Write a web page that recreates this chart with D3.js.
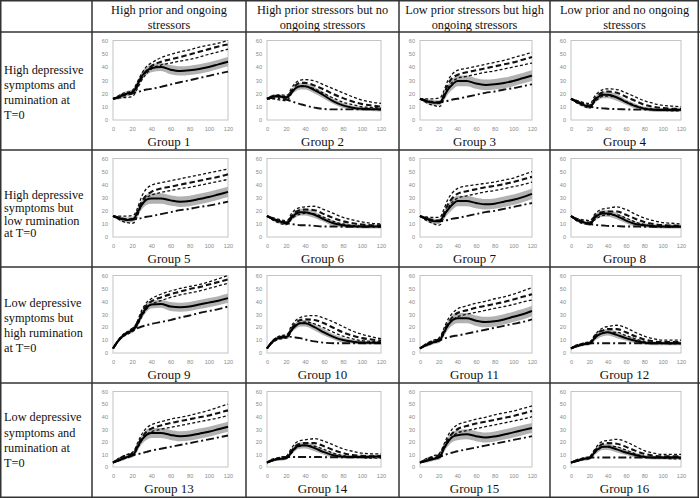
<!DOCTYPE html>
<html>
<head>
<meta charset="utf-8">
<script src="https://cdn.jsdelivr.net/npm/d3@7"></script>
<style>
  html, body { margin: 0; padding: 0; background: #fff; }
  svg { display: block; }
</style>
</head>
<body>
<svg id="chart" width="700" height="498"></svg>
<script>
// ---------------- DATA ----------------
const columnHeaders = [
  ["High prior and ongoing", "stressors"],
  ["High prior stressors but no", "ongoing stressors"],
  ["Low prior stressors but high", "ongoing stressors"],
  ["Low prior and no ongoing", "stressors"]
];
const rowHeaders = [
  ["High depressive", "symptoms and", "rumination at", "T=0"],
  ["High depressive", "symptoms but", "low rumination", "at T=0"],
  ["Low depressive", "symptoms but", "high rumination", "at T=0"],
  ["Low depressive", "symptoms and", "rumination at", "T=0"]
];
const groupLabels = ["Group 1","Group 2","Group 3","Group 4","Group 5","Group 6","Group 7","Group 8",
  "Group 9","Group 10","Group 11","Group 12","Group 13","Group 14","Group 15","Group 16"];
const xTicks = [0, 20, 40, 60, 80, 100, 120];
const yTicks = [0, 10, 20, 30, 40, 50, 60];
const times = [0, 5, 10, 15, 20, 22, 25, 30, 35, 40, 50, 60, 70, 80, 90, 100, 110, 120];

// solid mean line
const meanSeries = [
  [16,17,18.5,20,21,22,26,33,37,39,40,38,37,37.5,38.5,40,42,44],
  [16,17.5,18,17.5,17,17.5,20,24,25.5,25.5,22.5,18.5,14,11,9.2,8.4,8.2,8],
  [16,14.5,13.5,13,13,13.5,17,23,27,29.5,29.5,27.5,26.5,27,28,29.5,31.5,33.5],
  [16,14,12.5,11,10,10.5,14,17.5,19,19,17,13.5,10.5,8.5,7.8,7.5,7.5,7.8],
  [16,14.5,13.5,13,13.5,14,18,24.5,28.5,29.5,29.5,28,27,27.5,29,30.5,32.5,34.5],
  [16,14,12.5,11.5,10.5,11,14,17.5,19,19,17,13.5,10.5,9,8.3,8,8,8],
  [16,14.5,13,12,12,12.5,16,21,25,27.5,27.5,26,25,25.5,27,28.5,30.5,33],
  [16,13.5,12,11,10,10.5,14,17,18,18,16,12.5,10,9,8.3,8,8,8],
  [3.5,9,13,15.5,17.5,18.5,22,29.5,35,37.5,38,36,35.5,36,37.5,39,40.5,42.5],
  [3.5,8,11,12,12.5,13,17,21,23,23,20,16,12.5,10,8.8,8.2,8,8],
  [3.5,5.5,7,8.5,9.5,10.5,15,21.5,25.5,27,27,25,24,24.5,26,28,30,32.5],
  [3.5,5,6,7,7.5,8,11,14,15.5,16,14,11.5,9.5,8,7.5,7.5,7.5,7.5],
  [3.5,5,6.5,8,9.5,10.5,15,21.5,25.5,27,27,25.5,24.5,25,26.5,28,30,32],
  [3.5,5,6,6.5,7,8,11,15.5,17,17.3,15,11.8,9.3,8.2,8,8,8.2,8.5],
  [3.5,4.5,5.5,6.5,7.5,8.5,14,20,24,25.3,26,24.5,23.5,24.3,25.8,27.5,29.3,31],
  [3.5,4.5,5.5,6.5,7,8,11,14.5,16,16,14,11.5,9.5,8,7.5,7.5,7.5,7.5]
];
// half-width of the grey band around the mean
const bandSpread = [
  [0,1.5,2,2,2,2.5,3,3,3,3,3,3.5,3.5,3.5,3.5,3.5,3.5,3.5],
  [0,1.5,1.5,1.5,1.5,2,2,2.5,2.5,2.5,2.5,2.5,2,2,1.5,1.5,1.5,1.5],
  [0,1.5,2,2,2,2,3,3.5,4,4,4,4,4,4,4,4,4,4],
  [0,1,1.5,1.5,1.5,1.5,2,2.5,2.5,2.5,2.5,2,2,1.5,1.5,1.5,1.5,1.5],
  [0,1.5,2,2,2,2,3,3.5,4,4,4,4,4,4,4,4,4,4],
  [0,1,1.5,1.5,1.5,1.5,2,2.5,2.5,2.5,2.5,2,2,1.5,1.5,1.5,1.5,1.5],
  [0,1.5,2,2,2,2,3,3.5,4,4,4,4,4,4,4,4,4,4],
  [0,1,1.5,1.5,1.5,1.5,2,2.5,2.5,2.5,2.5,2,2,1.5,1.5,1.5,1.5,1.5],
  [0,1,1.5,1.5,2,2,2.5,3,3,3,3,3.5,3.5,3.5,3.5,3.5,3.5,3.5],
  [0,1,1.5,1.5,1.5,2,2,2.5,2.5,2.5,2.5,2.5,2,2,1.5,1.5,1.5,1.5],
  [0,1,1.5,1.5,2,2,3,3.5,4,4,4,4,4,4,4,4,4,4],
  [0,1,1,1.5,1.5,1.5,2,2.5,2.5,2.5,2.5,2,2,1.5,1.5,1.5,1.5,1.5],
  [0,1,1.5,1.5,2,2,3,3.5,4,4,4,4,4,4,4,4,4,4],
  [0,1,1,1.5,1.5,1.5,2,2.5,2.5,2.5,2.5,2,2,1.5,1.5,1.5,1.5,1.5],
  [0,1,1.5,1.5,2,2,3,3.5,4,4,4,4,4,4,4,4,4,4],
  [0,1,1,1.5,1.5,1.5,2,2.5,2.5,2.5,2.5,2,2,1.5,1.5,1.5,1.5,1.5]
];
// upper fine-dashed line
const upperDash = [
  [16,18,20,21,22,24,28,35,40.5,43,47,49.5,51.5,53,55,56.5,58,60],
  [16,18,19,19,18.5,19,23,28,30,30.5,29.5,26.5,23.5,20.5,17.5,15,13.5,12.5],
  [16,16,16,16,16.5,17,21,30,35,37.5,39,40.5,42,43.5,45,47,49,51],
  [16,15,14,13,12.5,13,17,21,23,23.5,23,20.5,17.5,14.5,12.5,11,10.5,10],
  [16,16,16,16,16.5,17,21,31,37,39.5,41.5,43,44.5,46,47.5,49,50.5,52],
  [16,15,14,13,12.5,13,17,21,22.5,23,23.5,21,18,15,13,11.5,10.5,10],
  [16,15.5,15,15,15,15.5,20,29,34,37,39,40,41,42,43.5,45,47.5,50],
  [16,14.5,13.5,13,12.5,13,16.5,20,21.5,22,23,21,17.5,14.5,12.5,11,10.5,10],
  [3.5,9.5,14,16.5,19,20,24,33,39,42,45.5,48,50,51.5,53,55,57.5,60],
  [3.5,9,12,13.5,14,15,20,25,27.5,28.5,29,27,24,20.5,17,14.5,12.5,11],
  [3.5,6.5,8.5,10,11.5,13,18,26,31,34,36.5,38.5,40,42,43.5,45.5,48,50.5],
  [3.5,6,7,8,8.5,9.5,13,17,19.5,20.5,21.5,19.5,16,13,11,10,10,10],
  [3.5,6.5,8.5,10,11.5,13,18,26,31,33.5,36,38,39.5,41,43,45,47.5,50],
  [3.5,6,7,8,8.5,10,14,19,21,21.5,22.5,20.5,17.5,14.5,12.5,11,10.5,10.5],
  [3.5,6,7.5,9,10.5,12,17,25,30.5,33.5,36,38,39.5,41.5,43,44.5,46.5,48.5],
  [3.5,5.5,6.5,7.5,8,9.5,13,18,20.5,21,22,20,16.5,13,11,10,10,10]
];
// middle bold long-dashed line
const middleDash = [
  [16,17,19,19.5,20.5,21.5,25,32,37,40.5,44,45.7,47.5,49.5,51.5,53.5,55.5,57],
  [16,17,18,18,17,17.5,21,26,28,28,26,23,19.5,16.5,14,12,11,10],
  [16,15,14,13.5,13,13.5,18,27,32,34,36,37.5,39,40.5,42,43.5,45.5,47.5],
  [16,14.5,13,12,11,11.5,15,19,21,21.5,20.5,17.5,14.5,11.5,10,9,8.5,8.5],
  [16,15,14,13.5,13.5,14,18,27,32,34.5,37,38.5,40,41.5,43,44.5,46,48],
  [16,14.5,13,12,11,11.5,15,19,20.5,21,20.5,17.5,14.5,12,10.5,9.5,9,9],
  [16,14.5,13.5,13,12.5,13,17,25,30,33,35,36.5,38,39,40.5,42,44,46],
  [16,14,12.5,11.5,11,11.5,15,18,19,19.5,19.5,17,14,11.5,10,9,8.7,8.5],
  [3.5,9,13.5,16,18.5,19.5,23,31,37,40,43,45.5,47.5,49.5,51,53,55,57],
  [3.5,8.5,11.5,12.5,13,14,18,23,25.5,26,25.5,23,19.5,16,13.5,11.5,10.5,9.5],
  [3.5,6,8,9.5,10.5,11.5,16,23,28,31,33,35,36.5,38,39.5,41.5,43.5,45.5],
  [3.5,5.5,6.5,7.5,8,9,12,16,17.5,18.5,18.5,16,13,10.5,9,8.5,8.5,8.5],
  [3.5,6,8,9.5,10.5,11.5,16,23,28,30.5,33,35,36.5,38,39.5,41,43,45],
  [3.5,5.5,6.5,7.5,8,9,12,16.5,18.5,19,19,16.5,13.5,11,9.5,9,8.5,8.5],
  [3.5,5.5,7,8,9.5,10.5,15,22,27,30,32.5,34.5,36,37.5,39,40.5,42.5,44.5],
  [3.5,5,6,7,7.5,9,12,16,18.5,19,18.5,16,13,10.5,9,8.5,8.5,8.5]
];
// lower fine-dashed line
const lowerDash = [
  [16,16.5,17,17,18,19,23,30,35,38.4,41.5,43,44.5,45.7,47.5,49.6,51.5,53.5],
  [16,16,15.5,15,14.5,15,19,24,26,25.5,23.5,20,16.5,13.5,11.5,10,9.5,9],
  [16,14,12,11,10,10.5,15,24,29,31.5,33,34.5,36,37,38.5,40,41.5,43],
  [16,13.5,11.5,10,9,9.5,13,16,18,18,17,14,11,9,8,7.5,7,7],
  [16,14,12,11,10.5,11,15,25,30,32,34,35.5,37,38,39.5,41,42.5,44],
  [16,13.5,11.5,10,9.5,10,13,16,17.5,18,17.5,15,12,10,8.8,8.3,8,8],
  [16,13.5,11.5,10,9,9.5,14,22,27,29.5,31.5,33,34.5,35.5,37,38.5,40,42],
  [16,13,11,10,9.5,10,12.5,15,16.5,17,17,14.5,11.5,9.5,8.5,8,7.5,7.5],
  [3.5,8.5,12.5,14.5,16.5,17.5,21,28,34,37.5,40.5,43,45,46.5,48,50,52,54],
  [3.5,7.5,10,11,11.5,12,16,21,23.5,24,22.5,19.5,16,13,11,9.5,9,8.5],
  [3.5,5.5,7,8,9,10,14,21,25.5,28,30,31.5,33,34.5,36,37.5,39.5,41],
  [3.5,5,6,6.5,7,8,10.5,14,15.5,16,16,13.5,11,9,8,7.5,7,7],
  [3.5,5.5,7,8,9,10,14,21,25.5,28,30,31.5,33,34.5,36,37.5,39,41],
  [3.5,5,6,6.5,7,8,10.5,14.5,16.5,17,16.5,14,11,9,8,7.5,7,7],
  [3.5,5,6,7,8,9,13,20,24.5,27,29,30.5,32,33.5,35,36.5,38,40],
  [3.5,4.5,5.5,6.5,7,8,10.5,14,16,16.5,16,13.5,10.5,8.5,7.5,7,6.5,6.5]
];
// dash-dot reference line
const dashDotSeries = [
  [16,17,18,19,20,20.5,21,22,23,23.5,25,26.8,28.5,30,31.7,33.3,35,36.5],
  [16,16.5,16.5,16,15.5,15,14.5,13,12,11,9.3,8.3,8,8,8,8,8,8],
  [16,15,14,13.5,13.5,13.5,14,14.5,15.5,16,17.5,19,20.5,21.5,23,24,25.5,27],
  [16,14.5,13,11.5,10.5,10,9.5,9,8.8,8.5,8.2,8,7.8,7.8,7.8,7.8,7.8,7.8],
  [16,15,14,13.5,13.5,13.5,14,14.5,15.5,16,17.5,19,20.5,21.5,23,24,25.5,27],
  [16,14.5,13,12,11,10.5,10,9.5,9,9,8.5,8,8,7.8,7.8,7.8,7.8,7.8],
  [16,14.5,13,12.5,12,12,12.5,13,14,14.5,16,17.5,19,20,21.5,23,24.5,26],
  [16,14,12,11,10,9.7,9.5,9,8.8,8.5,8.3,8,8,7.8,7.8,7.8,7.8,7.8],
  [3.5,9,13,15.5,17.5,18,19,20.5,21.5,22.5,24,25.5,27.5,29,31,32.5,34,36],
  [3.5,8,11,12,12.5,12.5,12.5,12,11.5,10.5,9,8,7.5,7.5,7.5,7.5,7.5,7.5],
  [3.5,5.5,7,8.5,9.5,10,11,12,13,13.5,15,16.5,18,19.5,21,22.5,24,26],
  [3.5,5,6.5,7,7.5,7.5,7.5,7.5,7.5,7.5,7.5,7.5,7.5,7.5,7.5,7.5,7.5,7.5],
  [3.5,5,6.5,7.5,9,9.5,10,11,12,13,14.5,16,17.5,19,20.5,22,23.5,25],
  [3.5,5,6.5,7.5,8,8,8,8,8,8,8,7.8,7.8,7.8,7.8,7.8,7.8,7.8],
  [3.5,4.5,6,7,8,8.5,9,10.5,11.5,12.5,14,15.5,17,18.5,20,21.5,23,24.5],
  [3.5,4.5,5.5,6.5,7,7.5,7.5,7.5,7.5,7.5,7.5,7.5,7.5,7.5,7.5,7.5,7.5,7.5]
];

// ---------------- LAYOUT ----------------
const W = 700, H = 498;
const colX = [0, 92, 246, 399, 550, 699];
const rowY = [0.5, 32, 150, 267, 383, 497];
const rowTextStart = [69.5, 195, 303, 417];
const rowTextStep = [15, 12.6, 15, 15.2];
const serif = "'Liberation Serif', 'Times New Roman', serif";
const sans = "'Liberation Sans', Arial, sans-serif";

const svg = d3.select("#chart");
svg.append("rect").attr("width", W).attr("height", H).attr("fill", "#fff");

// column headers
columnHeaders.forEach((lines, c) => {
  const cx = (colX[c + 1] + colX[c + 2]) / 2;
  lines.forEach((t, i) => {
    svg.append("text").attr("x", cx).attr("y", 10 + i * 15).attr("dy", "0.35em")
      .attr("text-anchor", "middle").attr("font-family", serif).attr("font-size", 12.3)
      .attr("fill", "#111").text(t);
  });
});
// row headers
rowHeaders.forEach((lines, r) => {
  lines.forEach((t, i) => {
    svg.append("text").attr("x", 4).attr("y", rowTextStart[r] + i * rowTextStep[r]).attr("dy", "0.35em")
      .attr("text-anchor", "start").attr("font-family", serif).attr("font-size", 12.3)
      .attr("fill", "#111").text(t);
  });
});

// small multiples
groupLabels.forEach((label, g) => {
  const r = Math.floor(g / 4), c = g % 4;
  const x0 = colX[c + 1], x1 = colX[c + 2], y0 = rowY[r + 1], y1 = rowY[r + 2];
  const left = x0 + 21, right = x1 - 18, top = y0 + 8.5, bottom = y1 - 30;
  const x = d3.scaleLinear().domain([0, 120]).range([left, right]);
  const y = d3.scaleLinear().domain([0, 60]).range([bottom, top]);
  const gg = svg.append("g");

  // frame
  gg.append("rect").attr("x", left).attr("y", top).attr("width", right - left).attr("height", bottom - top)
    .attr("fill", "#fff").attr("stroke", "#c4c4c4").attr("stroke-width", 1);

  // axes (labels only)
  const yAx = gg.append("g").attr("transform", `translate(${left},0)`)
    .call(d3.axisLeft(y).tickValues(yTicks).tickSize(0).tickPadding(5));
  const xAx = gg.append("g").attr("transform", `translate(0,${bottom})`)
    .call(d3.axisBottom(x).tickValues(xTicks).tickSize(0).tickPadding(7));
  [yAx, xAx].forEach(a => {
    a.select(".domain").remove();
    a.selectAll("text").attr("font-family", sans).attr("font-size", 5.6).attr("fill", "#8a8a8a");
  });

  const pts = i => times.map((t, k) => ({ t, v: i[k] }));
  const line = d3.line().x(d => x(d.t)).y(d => y(d.v)).curve(d3.curveMonotoneX);

  // band
  const band = times.map((t, k) => ({ t, lo: meanSeries[g][k] - bandSpread[g][k], hi: meanSeries[g][k] + bandSpread[g][k] }));
  gg.append("path").datum(band)
    .attr("d", d3.area().x(d => x(d.t)).y0(d => y(d.lo)).y1(d => y(d.hi)).curve(d3.curveMonotoneX))
    .attr("fill", "#b2b2b2");

  // dash-dot
  gg.append("path").datum(pts(dashDotSeries[g])).attr("d", line)
    .attr("fill", "none").attr("stroke", "#111").attr("stroke-width", 1.9)
    .attr("stroke-dasharray", "8,3,2,3");
  // dashed lines
  gg.append("path").datum(pts(lowerDash[g])).attr("d", line)
    .attr("fill", "none").attr("stroke", "#111").attr("stroke-width", 1.3).attr("stroke-dasharray", "3,2.2");
  gg.append("path").datum(pts(middleDash[g])).attr("d", line)
    .attr("fill", "none").attr("stroke", "#111").attr("stroke-width", 2.1).attr("stroke-dasharray", "5.5,3");
  gg.append("path").datum(pts(upperDash[g])).attr("d", line)
    .attr("fill", "none").attr("stroke", "#111").attr("stroke-width", 1.3).attr("stroke-dasharray", "3,2.2");
  // mean
  gg.append("path").datum(pts(meanSeries[g])).attr("d", line)
    .attr("fill", "none").attr("stroke", "#000").attr("stroke-width", 2);

  // group label
  gg.append("text").attr("x", (x0 + x1) / 2).attr("y", y1 - 4.5)
    .attr("text-anchor", "middle").attr("font-family", serif).attr("font-size", 13)
    .attr("fill", "#111").text(label);
});

// table grid
const grid = svg.append("g").attr("stroke", "#333").attr("stroke-width", 1.5).attr("fill", "none");
grid.append("rect").attr("x", 0.75).attr("y", 0.75).attr("width", W - 2.5).attr("height", H - 1.5);
colX.slice(1, 5).forEach(cx => grid.append("line").attr("x1", cx).attr("x2", cx).attr("y1", 0).attr("y2", H));
rowY.slice(1, 5).forEach(ry => grid.append("line").attr("x1", 0).attr("x2", W).attr("y1", ry).attr("y2", ry));
</script>
</body>
</html>
